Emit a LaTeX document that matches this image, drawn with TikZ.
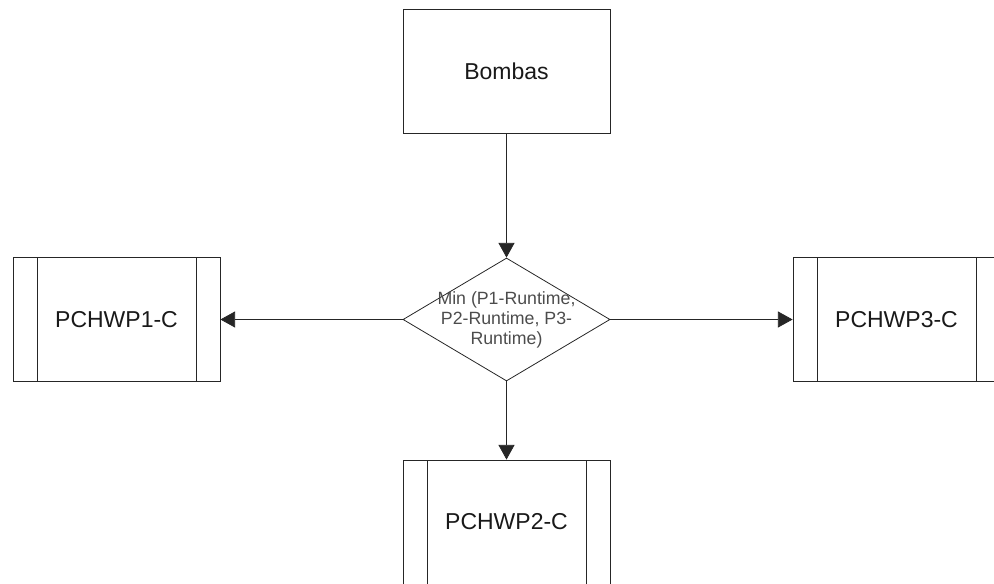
\documentclass[tikz,border=0pt]{standalone}
\usepackage{fontspec}
\setmainfont{Liberation Sans}
\usetikzlibrary{shapes.geometric}
\usetikzlibrary{arrows.meta}

\tikzset{
  plainbox/.style={draw=black!85, line width=0.6pt, minimum width=155.25pt, minimum height=93pt,
    inner sep=0pt, text=black!90, font=\fontsize{17.25}{20}\selectfont},
  pumpbox/.style={plainbox,
    path picture={\draw[black!85, line width=0.6pt]
      ([xshift=18pt]path picture bounding box.north west) -- ([xshift=18pt]path picture bounding box.south west)
      ([xshift=-18pt]path picture bounding box.north east) -- ([xshift=-18pt]path picture bounding box.south east);}},
  decision/.style={diamond, draw=black!85, line width=0.6pt, minimum width=155.25pt,
    minimum height=92.25pt, inner sep=0pt},
  flow/.style={draw=black!85, line width=0.6pt, -{Triangle[length=11pt,width=12pt]}}
}

\begin{document}
\begin{tikzpicture}[x=0.75pt,y=0.75pt,yscale=-1,xscale=1]
\useasboundingbox (0,0) rectangle (994,584);
\clip (0,0) rectangle (994,584);

%Top box
\node [plainbox] (bombas) at (506.5,71) {Bombas};

%Decision
\node [decision, label={[align=center, text=black!70, font=\fontsize{13.3}{15}\selectfont]center:Min (P1-Runtime,\\P2-Runtime, P3-\\Runtime)}] (minrun) at (506.5,319.5) {};

%Pumps
\node [pumpbox] (pump1) at (116.5,319.5) {PCHWP1-C};
\node [pumpbox] (pump2) at (506.5,522) {PCHWP2-C};
\node [pumpbox] (pump3) at (896.5,319.5) {PCHWP3-C};

%Arrows
\draw [flow] (bombas) -- (minrun);
\draw [flow] (minrun) -- (pump1);
\draw [flow] (minrun) -- (pump2);
\draw [flow] (minrun) -- (pump3);

\end{tikzpicture}
\end{document}
